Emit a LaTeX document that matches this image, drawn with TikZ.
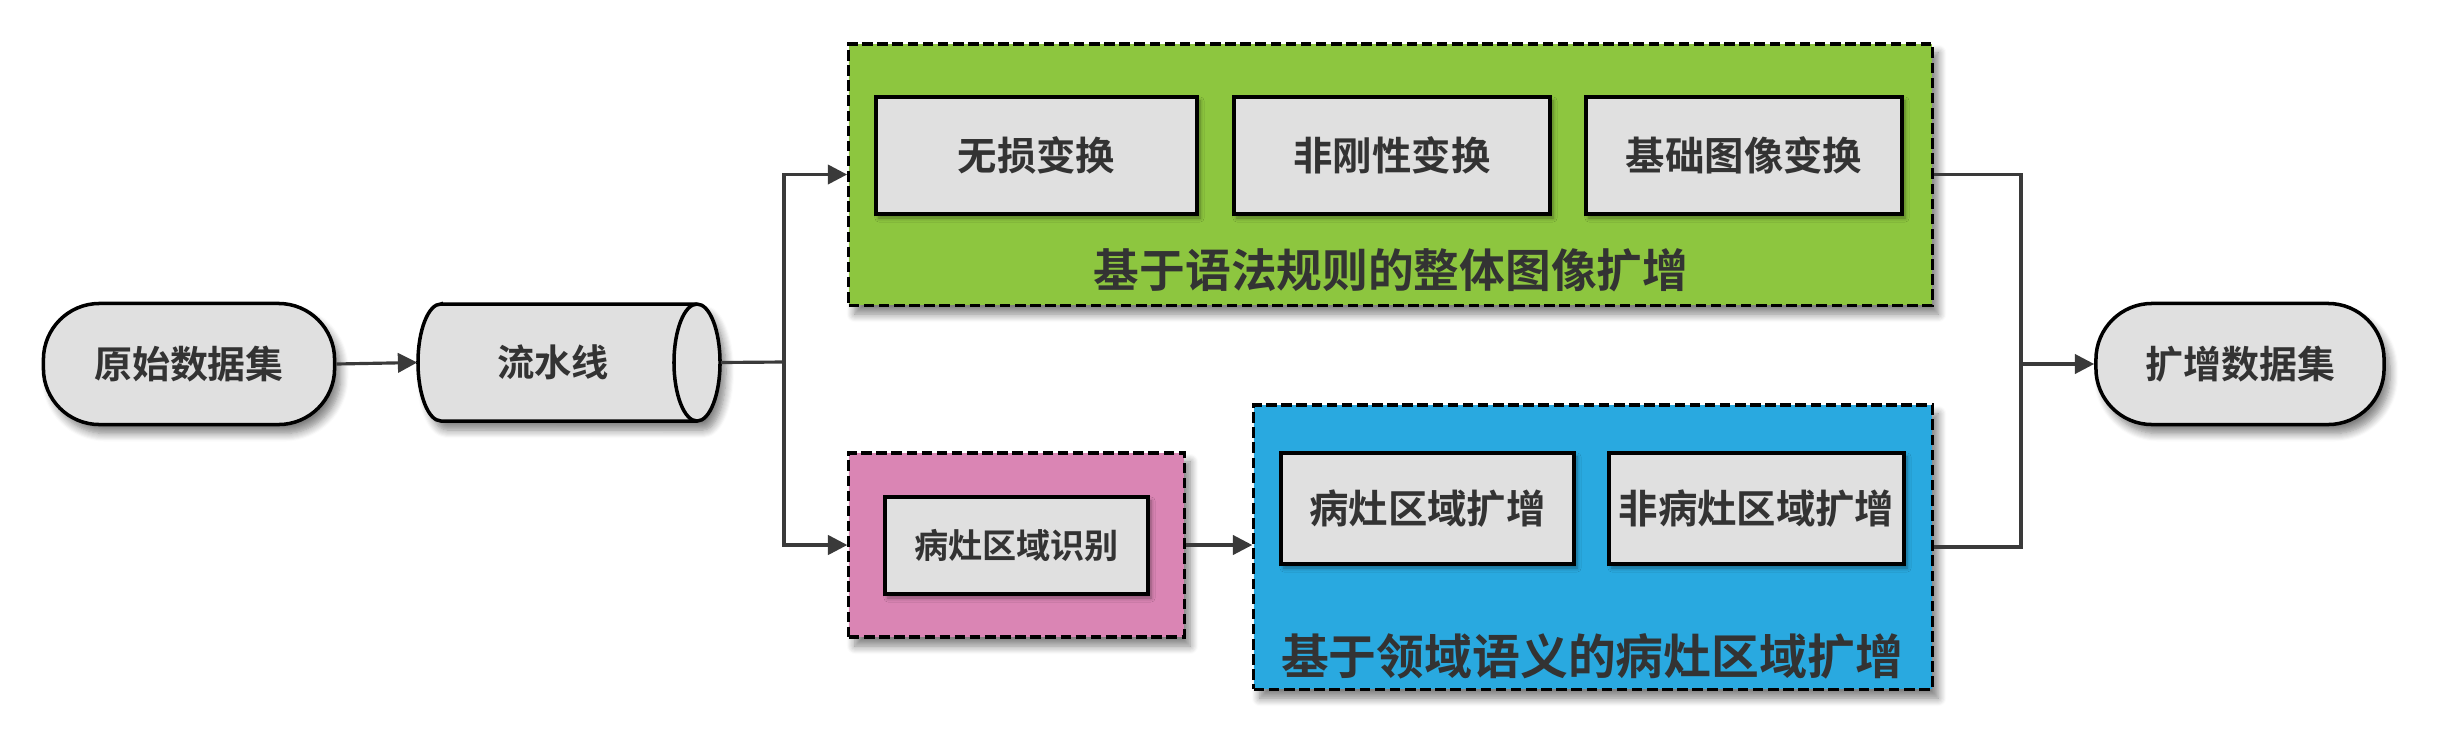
\documentclass[tikz,border=0pt]{standalone}
\usepackage{fontspec}
\newfontfamily\cjk[BoldFont={Noto Sans CJK SC Bold}]{Noto Sans CJK SC}
\usetikzlibrary{arrows.meta,shadows.blur}
\definecolor{boxgray}{HTML}{E0E0E0}
\definecolor{txt}{HTML}{333333}
\definecolor{lnc}{HTML}{3A3A3A}
\definecolor{grn}{HTML}{8DC63F}
\definecolor{pnk}{HTML}{DA85B4}
\definecolor{blu}{HTML}{29A9E0}
\tikzset{
  shd/.style={blur shadow={shadow xshift=0.6mm,shadow yshift=-0.9mm,shadow blur steps=8,shadow opacity=50,shadow blur radius=0.8mm}},
  ishd/.style={blur shadow={shadow xshift=0.3mm,shadow yshift=-0.4mm,shadow blur steps=5,shadow opacity=40,shadow blur radius=0.4mm}},
  fnt/.style={font=\cjk\bfseries\fontsize{#1}{#1}\selectfont, text=txt},
  term/.style={draw=black, line width=1pt, fill=boxgray, rounded corners=5.6mm, shd, inner sep=0pt, fnt=10.8pt},
  ibox/.style={draw=black, line width=1pt, fill=boxgray, ishd, inner sep=0pt, fnt=11.2pt},
  grp/.style={draw=black, line width=0.9pt, dash pattern=on 3pt off 1.3pt, shd, inner sep=0pt},
  glabel/.style={fnt=13pt, inner sep=0pt},
  conn/.style={draw=lnc, line width=0.9pt},
  arr/.style={conn, -{Triangle[length=5.5pt,width=5.5pt]}},
  cyl/.style={draw=black, line width=1pt, fill=boxgray},
}
\begin{document}
\begin{tikzpicture}[x=0.01cm,y=-0.01cm]
\useasboundingbox (0,0) rectangle (2443,745);
% group boxes
\node[grp, fill=grn, minimum width=10.83cm, minimum height=2.61cm] (green) at (1390.5,174.5) {};
\node[grp, fill=pnk, minimum width=3.35cm, minimum height=1.84cm] (pink) at (1016.5,545) {};
\node[grp, fill=blu, minimum width=6.78cm, minimum height=2.84cm] (blue) at (1593,547) {};
% terminals
\node[term, minimum width=2.91cm, minimum height=1.21cm] (src) at (189,364) {原始数据集};
\node[term, minimum width=2.88cm, minimum height=1.21cm] (dst) at (2240,364) {扩增数据集};
% pipeline cylinder
\node[inner sep=0pt, minimum width=3.02cm, minimum height=1.17cm] (pipe) at (569,362.5) {};
\path[cyl, shd] (441,304) -- (697,304) arc[start angle=90, end angle=-90, x radius=0.23cm, y radius=0.585cm]
   -- (441,421) arc[start angle=270, end angle=90, x radius=0.23cm, y radius=0.585cm] -- cycle;
\draw[line width=1pt] (697,304) arc[start angle=90, end angle=270, x radius=0.23cm, y radius=0.585cm];
\node[fnt=10.6pt, inner sep=0pt] (pipetext) at (553,362) {流水线};
% inner boxes
\node[ibox, minimum width=3.21cm, minimum height=1.17cm] (t1) at (1036.5,155.5) {无损变换};
\node[ibox, minimum width=3.16cm, minimum height=1.17cm] (t2) at (1392,155.5) {非刚性变换};
\node[ibox, minimum width=3.16cm, minimum height=1.17cm] (t3) at (1744,155.5) {基础图像变换};
\node[ibox, minimum width=2.63cm, minimum height=0.97cm, fnt=9.7pt] (p1) at (1016.5,545.5) {病灶区域识别};
\node[ibox, minimum width=2.93cm, minimum height=1.11cm] (b1) at (1427.5,508.5) {病灶区域扩增};
\node[ibox, minimum width=2.95cm, minimum height=1.11cm] (b2) at (1756.5,508.5) {非病灶区域扩增};
% group labels
\node[glabel] (gl) at (1391,270) {基于语法规则的整体图像扩增};
\node[glabel, fnt=13.6pt] (bl) at (1592,656) {基于领域语义的病灶区域扩增};
% connectors
\coordinate (j1) at (784,362);
\coordinate (j2) at (2021,364);
\draw[arr] (src.east) -- (pipe.west);
\draw[conn] (pipe.east) -- (j1);
\draw[arr] (j1) |- (green.west);
\draw[arr] (j1) |- (pink.west);
\draw[arr] (pink.east) -- (pink.east -| blue.west);
\draw[conn] (green.east) -| (j2);
\draw[conn] (blue.east) -| (j2);
\draw[arr] (j2) -- (dst.west);
\end{tikzpicture}
\end{document}
